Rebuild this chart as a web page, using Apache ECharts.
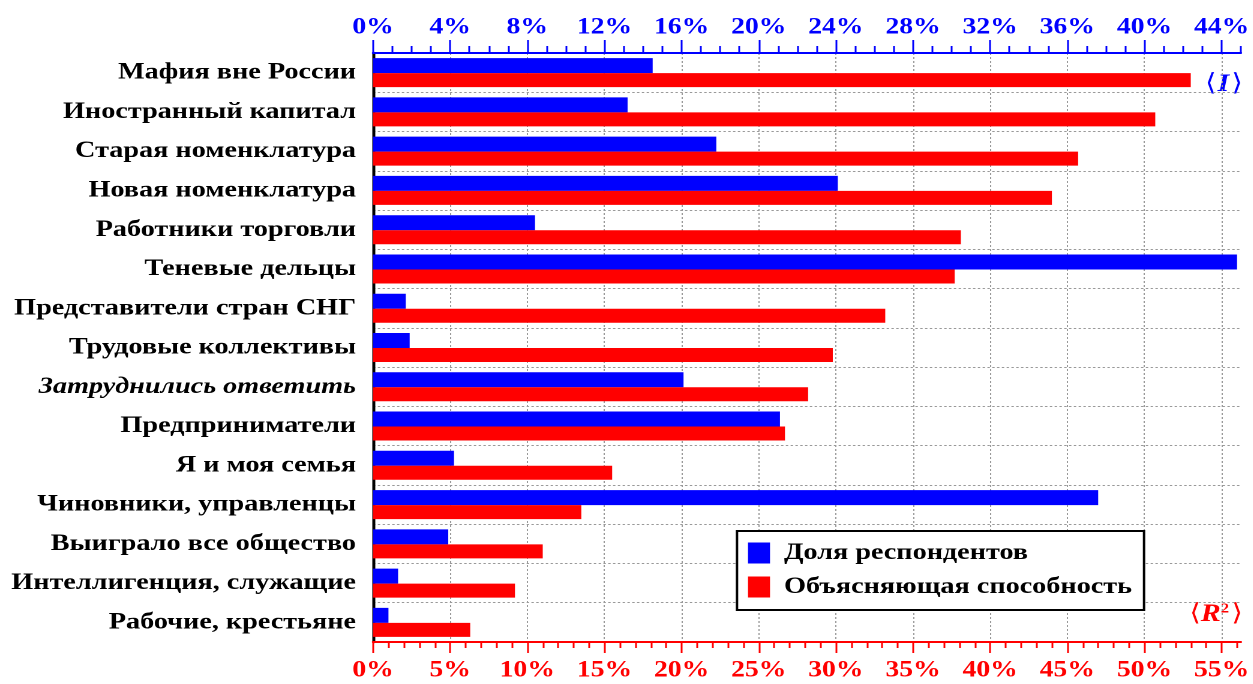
<!DOCTYPE html>
<html>
<head>
<meta charset="utf-8">
<title>Кто выиграл</title>
<script src="https://cdn.jsdelivr.net/npm/echarts/dist/echarts.min.js"></script>
<style>
  html, body { margin: 0; padding: 0; background: #fff; }
  #wrap { width: 1253px; height: 684px; overflow: hidden; }
  #chart { height: 684px; transform-origin: 0 0; }
</style>
</head>
<body>
<div id="wrap"><div id="chart"></div></div>
<script>
  const categories = [
    'Мафия вне России',
    'Иностранный капитал',
    'Старая номенклатура',
    'Новая номенклатура',
    'Работники торговли',
    'Теневые дельцы',
    'Представители стран СНГ',
    'Трудовые коллективы',
    'Затруднились ответить',
    'Предприниматели',
    'Я и моя семья',
    'Чиновники, управленцы',
    'Выиграло все общество',
    'Интеллигенция, служащие',
    'Рабочие, крестьяне'
  ];
  // доля респондентов, % (верхняя шкала)
  const respondentShare = [14.5, 13.2, 17.8, 24.1, 8.4, 44.8, 1.7, 1.9, 16.1, 21.1, 4.2, 37.6, 3.9, 1.3, 0.8];
  // объясняющая способность R2, % (нижняя шкала)
  const explanatoryPower = [53.0, 50.7, 45.7, 44.0, 38.1, 37.7, 33.2, 29.8, 28.2, 26.7, 15.5, 13.5, 11.0, 9.2, 6.3];
  const topTicks = [0, 4, 8, 12, 16, 20, 24, 28, 32, 36, 40, 44];
  const bottomTicks = [0, 5, 10, 15, 20, 25, 30, 35, 40, 45, 50, 55];
  const seriesNames = ['Доля респондентов', 'Объясняющая способность'];

  // the original picture is stretched sideways, so draw it narrow and widen the canvas
  const STRETCH = 1.2;
  const px = x => x / STRETCH;
  const el = document.getElementById('chart');
  el.style.width = (1253 / STRETCH) + 'px';
  el.style.transform = 'scaleX(' + STRETCH + ')';

  const font = 'Liberation Serif';
  const blue = '#0000ff';
  const red = '#ff0000';
  const topMinor = Array.from({length: 46}, (v, i) => i);
  const bottomMinor = Array.from({length: 57}, (v, i) => i);
  const dotted = {color: '#999', type: [2, 2], width: 1};

  const chart = echarts.init(el, null, {devicePixelRatio: 2});
  chart.setOption({
    animation: false,
    backgroundColor: '#fff',
    grid: {left: px(373), right: px(3), top: 53, bottom: 42},
    legend: {
      orient: 'vertical',
      left: px(737),
      top: 531,
      data: seriesNames,
      icon: 'rect',
      itemWidth: px(22),
      itemHeight: 21,
      itemGap: 10,
      padding: [10, px(12), 11, px(11)],
      backgroundColor: '#fff',
      borderColor: '#000',
      borderWidth: 2,
      borderRadius: 0,
      textStyle: {fontFamily: font, fontWeight: 'bold', fontSize: 23.5, color: '#000', padding: [0, 0, 0, px(8)]}
    },
    xAxis: [{
      type: 'value', position: 'top', min: 0, max: 45,
      axisLine: {show: true, lineStyle: {color: blue, width: 2}},
      axisTick: {show: true, customValues: topTicks, length: 13, lineStyle: {color: blue, width: 1.5}},
      axisLabel: {customValues: topTicks, formatter: '{value}%', color: blue, fontFamily: font, fontWeight: 'bold', fontSize: 23, margin: 14},
      splitLine: {show: true, lineStyle: dotted}
    }, {
      type: 'value', position: 'top', min: 0, max: 45,
      axisLine: {show: false},
      axisTick: {show: true, customValues: topMinor, length: 7, lineStyle: {color: blue, width: 1.5}},
      axisLabel: {show: false},
      splitLine: {show: false}
    }, {
      type: 'value', position: 'bottom', min: 0, max: 56.25,
      axisLine: {show: true, lineStyle: {color: red, width: 2}},
      axisTick: {show: true, customValues: bottomTicks, length: 11, lineStyle: {color: red, width: 1.5}},
      axisLabel: {customValues: bottomTicks, formatter: '{value}%', color: red, fontFamily: font, fontWeight: 'bold', fontSize: 23, margin: 17},
      splitLine: {show: false}
    }, {
      type: 'value', position: 'bottom', min: 0, max: 56.25,
      axisLine: {show: false},
      axisTick: {show: true, customValues: bottomMinor, length: 6, lineStyle: {color: red, width: 1.5}},
      axisLabel: {show: false},
      splitLine: {show: false}
    }],
    yAxis: {
      type: 'category',
      inverse: true,
      data: categories,
      axisLine: {show: true, lineStyle: {color: '#000', width: 2.5}},
      axisTick: {show: false},
      axisLabel: {
        color: '#000', fontFamily: font, fontWeight: 'bold', fontSize: 23.5, margin: px(17),
        formatter: v => v === 'Затруднились ответить' ? '{it|' + v + '}' : v,
        rich: {it: {fontStyle: 'italic', fontFamily: font, fontWeight: 'bold', fontSize: 23.5, color: '#000'}}
      },
      splitLine: {show: true, lineStyle: dotted}
    },
    series: [{
      name: seriesNames[0],
      type: 'bar',
      xAxisIndex: 0,
      data: respondentShare,
      barWidth: 15,
      barGap: '0%',
      itemStyle: {color: blue}
    }, {
      name: seriesNames[1],
      type: 'bar',
      xAxisIndex: 2,
      data: explanatoryPower,
      barWidth: 14,
      barGap: '0%',
      itemStyle: {color: red}
    }],
    graphic: [{
      type: 'text', right: px(10), top: 72,
      style: {
        text: '{b|⟨}{v|I}{b|⟩}',
        fill: blue,
        rich: {
          b: {fontFamily: 'DejaVu Serif', fontSize: 24, fill: blue, fontWeight: 'normal'},
          v: {fontFamily: font, fontStyle: 'italic', fontWeight: 'bold', fontSize: 25, fill: blue, padding: [0, 2, 0, 1]}
        }
      }
    }, {
      type: 'text', right: px(10), top: 602,
      style: {
        text: '{b|⟨}{v|R}{s|2}{b|⟩}',
        fill: red,
        rich: {
          b: {fontFamily: 'DejaVu Serif', fontSize: 24, fill: red, fontWeight: 'normal'},
          v: {fontFamily: font, fontStyle: 'italic', fontWeight: 'bold', fontSize: 25, fill: red},
          s: {fontFamily: font, fontWeight: 'bold', fontSize: 14, fill: red, verticalAlign: 'top', padding: [0, 2, 10, 0]}
        }
      }
    }]
  });
</script>
</body>
</html>
